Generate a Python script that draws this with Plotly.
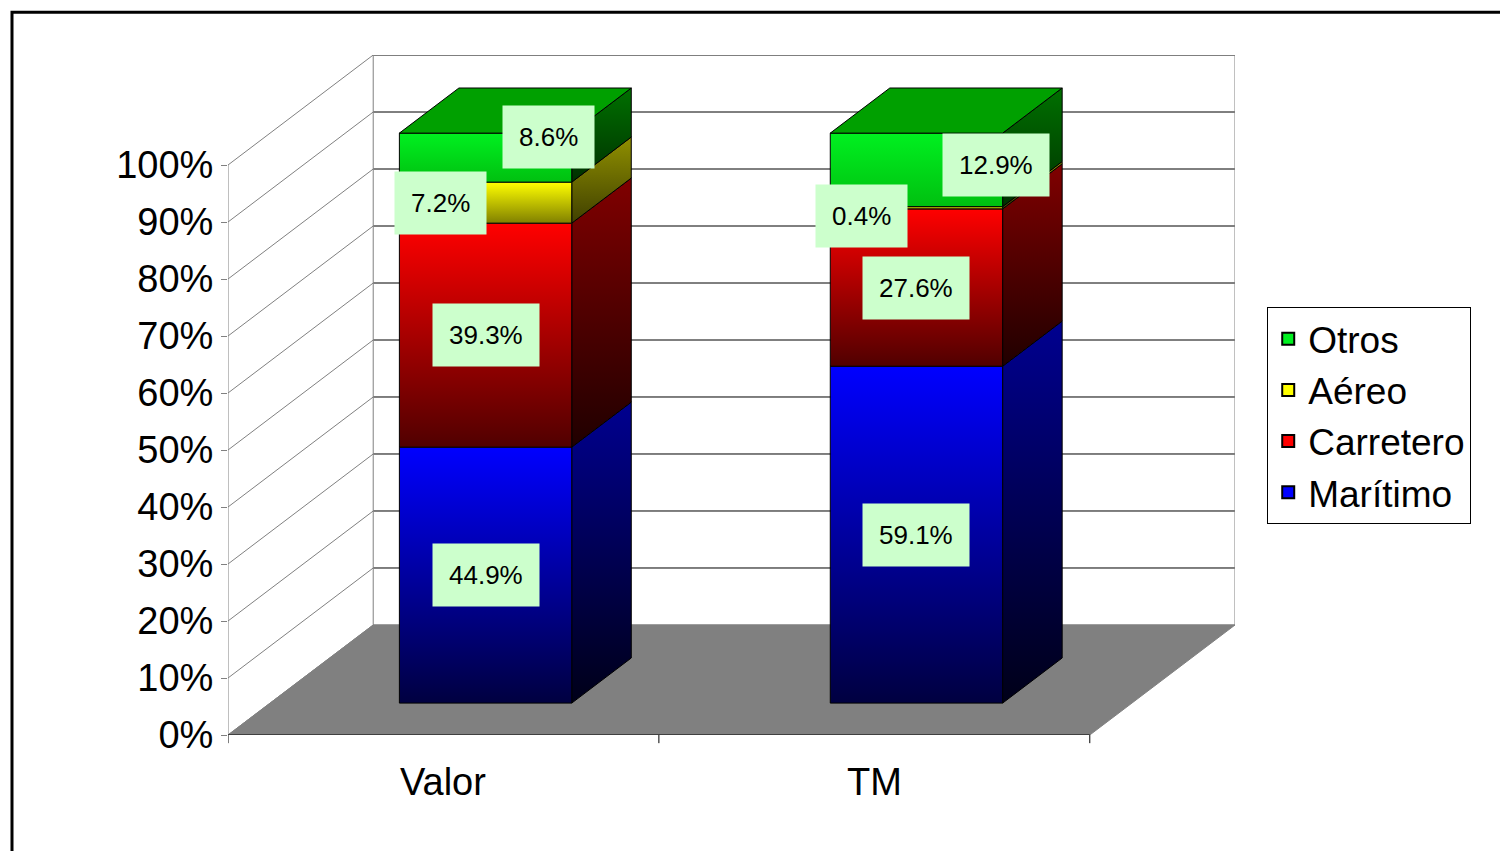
import plotly.graph_objects as go

categories = ["Valor", "TM"]
series = ["Marítimo", "Carretero", "Aéreo", "Otros"]
values = {
    "Marítimo": [44.9, 59.1],
    "Carretero": [39.3, 27.6],
    "Aéreo": [7.2, 0.4],
    "Otros": [8.6, 12.9],
}
yticks = list(range(0, 101, 10))

# style: (front bright, front dark, side bright, side dark, top)
colors = {
    "Marítimo": ("#0000ff", "#000040", "#000090", "#000018", "#0000c0"),
    "Carretero": ("#ff0000", "#500000", "#800000", "#200000", "#c00000"),
    "Aéreo": ("#ffff00", "#808000", "#909000", "#404000", "#c0c000"),
    "Otros": ("#00f020", "#00c010", "#007000", "#003000", "#00a000"),
}
label_offsets = {  # (dx units, dy %) relative to front-face centre
    ("Valor", "Aéreo"): (-0.105, 0), ("Valor", "Otros"): (0.145, 3.7),
    ("TM", "Aéreo"): (-0.128, -1.5), ("TM", "Otros"): (0.185, 0.9),
}

DX, DY = 0.337, 19.3      # full floor depth offset
F0, F1 = 0.29, 0.70       # bar depth range
BW = 0.40                 # bar width
YMAX = 100 + DY

def P(x, y, f):
    return x + f * DX, y + f * DY

fig = go.Figure()

def poly(pts, fill, gradient=None, lc="black", lw=1):
    xs = [p[0] for p in pts] + [pts[0][0]]
    ys = [p[1] for p in pts] + [pts[0][1]]
    kw = dict(fillcolor=fill)
    if gradient:
        kw = dict(fillgradient=gradient)
    fig.add_trace(go.Scatter(x=xs, y=ys, mode="lines", fill="toself",
                             line=dict(color=lc, width=lw), hoverinfo="skip",
                             showlegend=False, **kw))

def line(p, q, color, w=1):
    fig.add_trace(go.Scatter(x=[p[0], q[0]], y=[p[1], q[1]], mode="lines",
                             line=dict(color=color, width=w), hoverinfo="skip",
                             showlegend=False, cliponaxis=False))

poly([(0, 0), (2, 0), (2 + DX, DY), (DX, DY)], "#808080", lc="#808080")
for t in yticks:
    line((0, t), (DX, t + DY), "#808080")
    line((DX, t + DY), (2 + DX, t + DY), "#000000" if t else "#808080")
line((DX, DY), (DX, 100 + DY), "#808080")
line((2 + DX, DY), (2 + DX, 100 + DY), "#808080")
line((0, 0), (0, 100), "#808080")
line((0, 0), (2, 0), "#000000")

shapes = []
for i in range(3):
    shapes.append(dict(type="line", xref="x", yref="paper", x0=i, x1=i, y0=0, y1=-0.012,
                       line=dict(color="black", width=1)))

annotations = []
for ci, cat in enumerate(categories):
    xl = ci + 0.5 - BW / 2
    xr = xl + BW
    base = 0
    nonzero = [s for s in series if values[s][ci] > 0]
    for s in series:
        v = values[s][ci]
        top = base + v
        fb, fd, sb, sd, tc = colors[s]
        poly([P(xr, base, F0), P(xr, base, F1), P(xr, top, F1), P(xr, top, F0)], sd,
             gradient=dict(type="vertical", colorscale=[[0, sd], [1, sb]]))
        poly([P(xl, base, F0), P(xr, base, F0), P(xr, top, F0), P(xl, top, F0)], fb,
             gradient=dict(type="vertical", colorscale=[[0, fd], [1, fb]]))
        if s == nonzero[-1]:
            poly([P(xl, top, F0), P(xr, top, F0), P(xr, top, F1), P(xl, top, F1)], tc)
        ox, oy = label_offsets.get((cat, s), (0, 0))
        cx, cy = P((xl + xr) / 2, (base + top) / 2, F0)
        annotations.append(dict(x=cx + ox, y=cy + oy, text=f"{v:.1f}%", showarrow=False,
                                font=dict(size=26, color="black", family="Liberation Sans"),
                                bgcolor="#ccffcc", borderpad=16, xref="x", yref="y"))
        base = top
    annotations.append(dict(x=ci + 0.5, y=-0.035, text=cat, showarrow=False, yanchor="top",
                            xref="x", yref="paper",
                            font=dict(size=38, color="black", family="Liberation Sans")))

for s in reversed(series):
    fig.add_trace(go.Scatter(x=[None], y=[None], mode="markers", name=s,
                             marker=dict(symbol="square", size=22, color=colors[s][0],
                                         line=dict(color="black", width=1))))

shapes.append(dict(type="rect", xref="paper", yref="paper", x0=-0.2145, x1=1.4,
                   y0=-0.4, y1=1.063, line=dict(color="black", width=3)))

fig.update_layout(
    width=1508, height=851, plot_bgcolor="white", paper_bgcolor="white",
    margin=dict(l=220, r=281, t=47, b=124, autoexpand=False),
    xaxis=dict(range=[0, 2 + DX], visible=False, fixedrange=True),
    yaxis=dict(range=[0, YMAX], tickvals=yticks, ticktext=[f"{t}%" for t in yticks],
               showgrid=False, zeroline=False, ticks="outside", ticklen=6,
               tickcolor="#808080", showline=False,
               tickfont=dict(size=38, color="black", family="Liberation Sans")),
    legend=dict(x=1.032, y=0.629, xanchor="left", yanchor="top", bgcolor="white",
                bordercolor="black", borderwidth=1,
                font=dict(size=37, color="black", family="Liberation Sans"),
                traceorder="normal", itemsizing="constant"),
    annotations=annotations,
    shapes=shapes,
    showlegend=True,
)
fig.write_html("out.html")
